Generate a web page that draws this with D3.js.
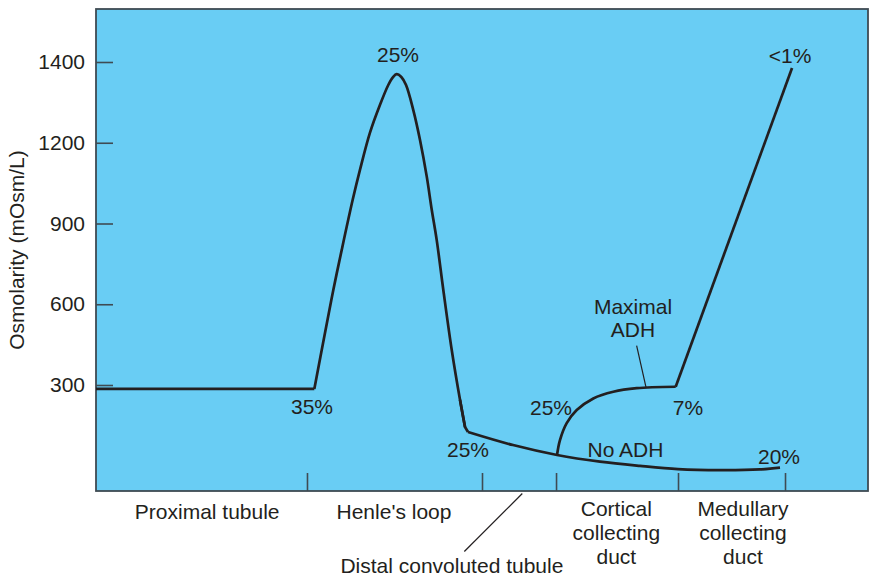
<!DOCTYPE html>
<html>
<head>
<meta charset="utf-8">
<script src="https://cdn.jsdelivr.net/npm/d3@7"></script>
<style>
  html, body { margin: 0; padding: 0; background: #fff; }
  svg { display: block; font-family: "Liberation Sans", Arial, Helvetica, sans-serif; }
</style>
</head>
<body>
<svg id="chart" width="869" height="576"></svg>
<script>
// ---------- data (x = position along nephron, 0-100; y = osmolarity mOsm/L) ----------
const yTicks = [300, 600, 900, 1200, 1400];
const segmentBounds = [27.33, 50.0, 59.59, 75.39, 89.25];
const segmentNames = [
  ["Proximal tubule"],
  ["Henle's loop"],
  ["Cortical", "collecting", "duct"],
  ["Medullary", "collecting", "duct"]
];
const segmentLabelX = [14.4, 38.6, 67.4, 83.8];
const dctName = "Distal convoluted tubule";
const dctLabelX = 46.1;
const dctPointerX = [55.22, 47.71];

const proximal = [[0, 289], [28.28, 289]];
const henle = [
  [28.28, 289], [29.66, 493], [30.74, 653], [31.83, 802], [33.25, 988],
  [34.20, 1100], [35.49, 1225], [36.79, 1294], [37.86, 1343], [38.45, 1362],
  [38.95, 1370], [39.55, 1363], [40.16, 1343], [41.10, 1281], [41.97, 1207],
  [42.84, 1075], [43.49, 951], [44.13, 839], [44.99, 653], [46.08, 430],
  [47.15, 258], [47.80, 181]
];
const henleEnd = [[47.15, 258], [47.80, 181], [48.19, 167]];
const noADH = [
  [48.19, 167], [54.02, 130], [59.72, 102], [65.28, 83], [70.47, 71],
  [75.39, 62], [80.83, 59], [86.01, 61], [88.60, 66]
];
const maxADHCurve = [
  [59.72, 102], [60.10, 144], [60.97, 192], [62.27, 229], [64.42, 262],
  [67.01, 281], [70.04, 291], [75.09, 295]
];
const maxADHRise = [[75.09, 295], [90.16, 1385]];

const pctLabels = [
  { text: "25%", x: 39.12, y: 1400 },
  { text: "35%", x: 27.98, y: 218 },
  { text: "25%", x: 48.19, y: 96 },
  { text: "25%", x: 58.94, y: 215 },
  { text: "7%",  x: 76.68, y: 215 },
  { text: "No ADH", x: 68.59, y: 97 },
  { text: "20%", x: 88.47, y: 76 },
  { text: "<1%", x: 89.90, y: 1397 },
  { text: "Maximal", x: 69.56, y: 564 },
  { text: "ADH", x: 69.56, y: 477 }
];
const maxADHPointer = [[70.03, 446], [71.24, 294]];

// ---------- layout ----------
const plotLeft = 96, plotRight = 868, plotTop = 9, plotBottom = 491;
const y300 = 385, yStep = 80.75;
const fontSize = 21;
const ink = "#231f20";
const frame = "#3f4b53";
const fill = "#69cdf4";

const svg = d3.select("#chart");

const x = d3.scaleLinear().domain([0, 100]).range([plotLeft, plotRight]);
const y = d3.scaleLinear()
  .domain([0].concat(yTicks))
  .range([plotBottom].concat(yTicks.map((d, i) => y300 - i * yStep)));

// background panel
svg.append("rect")
  .attr("x", plotLeft).attr("y", plotTop)
  .attr("width", plotRight - plotLeft).attr("height", plotBottom - plotTop)
  .attr("fill", fill);

// y axis ticks (inside)
const yAxis = svg.append("g")
  .attr("transform", `translate(${plotLeft},0)`)
  .call(d3.axisLeft(y).tickValues(yTicks).tickSize(-17).tickPadding(11).tickFormat(d3.format("d")));
yAxis.select(".domain").remove();
yAxis.selectAll(".tick line").attr("stroke", frame).attr("stroke-width", 1.6);
yAxis.selectAll(".tick text").attr("fill", ink).style("font-size", fontSize + "px")
  .style("font-family", "'Liberation Sans', Arial, sans-serif");

// x axis ticks (inside)
const xAxis = svg.append("g")
  .attr("transform", `translate(0,${plotBottom})`)
  .call(d3.axisBottom(x).tickValues(segmentBounds).tickSize(-18).tickFormat(""));
xAxis.select(".domain").remove();
xAxis.selectAll(".tick line").attr("stroke", frame).attr("stroke-width", 1.6);

// frame
svg.append("rect")
  .attr("x", plotLeft).attr("y", plotTop)
  .attr("width", plotRight - plotLeft).attr("height", plotBottom - plotTop)
  .attr("fill", "none").attr("stroke", frame).attr("stroke-width", 1.8);

// curves
const lin = d3.line().x(d => x(d[0])).y(d => y(d[1]));
const smooth = d3.line().x(d => x(d[0])).y(d => y(d[1])).curve(d3.curveCatmullRom.alpha(0.5));
const drawPath = (data, gen) => svg.append("path").datum(data).attr("d", gen)
  .attr("fill", "none").attr("stroke", ink).attr("stroke-width", 2.7)
  .attr("stroke-linejoin", "round").attr("stroke-linecap", "butt");

drawPath(proximal, lin);
drawPath(henle, smooth);
drawPath(henleEnd, lin);
drawPath(noADH, smooth);
drawPath(maxADHCurve, smooth);
drawPath(maxADHRise, lin);

// pointer for Maximal ADH
svg.append("path").datum(maxADHPointer).attr("d", lin)
  .attr("stroke", ink).attr("stroke-width", 1.2).attr("fill", "none");

// annotation labels
svg.append("g").selectAll("text").data(pctLabels).join("text")
  .attr("x", d => x(d.x)).attr("y", d => y(d.y))
  .attr("text-anchor", "middle")
  .attr("fill", ink).style("font-size", fontSize + "px")
  .text(d => d.text);

// segment labels under axis
const lineH = 24;
segmentNames.forEach((lines, i) => {
  const t = svg.append("text")
    .attr("text-anchor", "middle").attr("fill", ink).style("font-size", fontSize + "px");
  lines.forEach((ln, j) => {
    t.append("tspan").attr("x", x(segmentLabelX[i])).attr("y", 516 + (lines.length === 1 ? 3 : 0) + j * lineH).text(ln);
  });
});

// distal convoluted tubule label + pointer
svg.append("text").attr("x", x(dctLabelX)).attr("y", 573)
  .attr("text-anchor", "middle").attr("fill", ink).style("font-size", fontSize + "px")
  .text(dctName);
svg.append("line")
  .attr("x1", x(dctPointerX[0])).attr("y1", plotBottom + 2.5)
  .attr("x2", x(dctPointerX[1])).attr("y2", 551.5)
  .attr("stroke", ink).attr("stroke-width", 1.2);

// y axis title
svg.append("text")
  .attr("transform", `translate(24,250) rotate(-90)`)
  .attr("text-anchor", "middle").attr("fill", ink).style("font-size", fontSize + "px")
  .text("Osmolarity (mOsm/L)");
</script>
</body>
</html>
